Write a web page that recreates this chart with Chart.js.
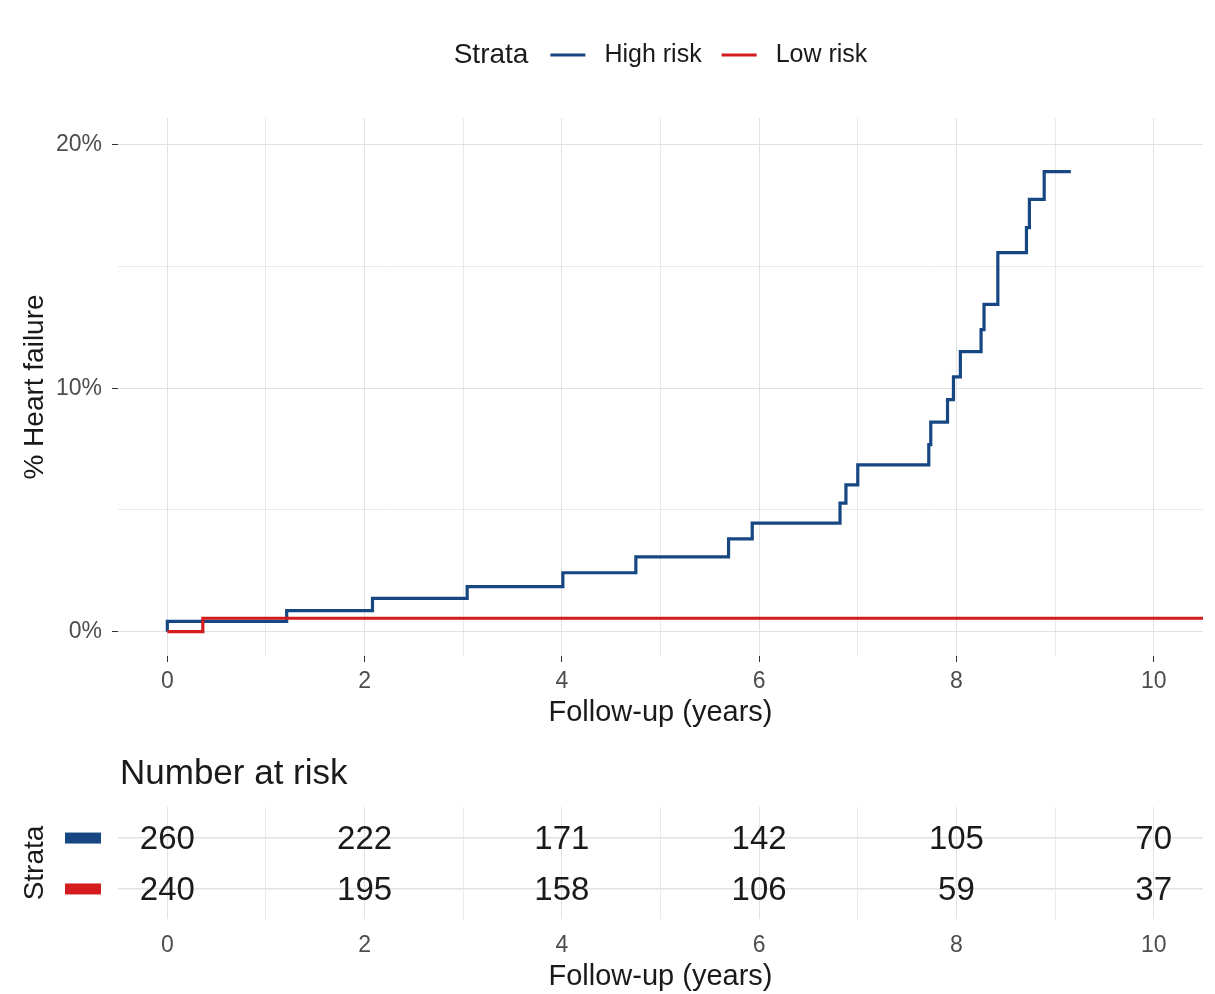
<!DOCTYPE html>
<html>
<head>
<meta charset="utf-8">
<title>Heart failure by risk stratum</title>
<script src="https://cdn.jsdelivr.net/npm/chart.js@4.4.1/dist/chart.umd.min.js"></script>
<style>
  html, body { margin: 0; padding: 0; background: #ffffff; }
  #wrap { position: relative; width: 1215px; height: 994px; overflow: hidden; }
  #curve { position: absolute; left: 0; top: 0; }
  #risk { position: absolute; left: 0; top: 740px; }
</style>
</head>
<body>
<div id="wrap">
  <canvas id="curve" width="1215" height="740"></canvas>
  <canvas id="risk" width="1215" height="254"></canvas>
</div>
<script>
// Cumulative incidence steps (years, % with heart failure)
const strataNames = ['High risk', 'Low risk'];
const highTimes = [0, 0, 1.21, 2.08, 3.04, 4.01, 4.75, 5.69, 5.93, 6.82, 6.88, 7.00, 7.72, 7.74, 7.91, 7.97, 8.04, 8.25, 8.28, 8.42, 8.71, 8.74, 8.89, 9.16];
const highPct   = [0, 0.42, 0.86, 1.37, 1.85, 2.42, 3.07, 3.81, 4.46, 5.28, 6.03, 6.85, 7.68, 8.61, 9.53, 10.47, 11.50, 12.41, 13.44, 15.57, 16.60, 17.76, 18.90, 18.90];
const lowTimes  = [0, 0.36, 10.5];
const lowPct    = [0, 0.55, 0.55];

// Number at risk table
const riskTimes = [0, 2, 4, 6, 8, 10];
const highAtRisk = [260, 222, 171, 142, 105, 70];
const lowAtRisk  = [240, 195, 158, 106, 59, 37];

// Axis ticks
const yearTicks = [0, 1, 2, 3, 4, 5, 6, 7, 8, 9, 10];
const pctTicks = [0, 5, 10, 15, 20];
const pctLabels = [0, 10, 20];

const COL_HIGH = '#164782';
const COL_LOW = '#D41C1F';
const FONT = '"Liberation Sans", Arial, sans-serif';
const GRID_MAJOR = '#E2E2E2';
const GRID_MINOR = '#EAEAEA';
const TICK_TXT = '#4D4D4D';
const TITLE_TXT = '#1A1A1A';

const toPoints = (xs, ys) => xs.map((x, i) => ({ x: x, y: ys[i] }));

// Legend across the top: "Strata" then a line key per stratum
const strataLegend = {
  id: 'strataLegend',
  afterDraw(chart) {
    const ctx = chart.ctx;
    const area = chart.chartArea;
    const cy = 55;
    ctx.save();
    ctx.textBaseline = 'middle';
    ctx.font = '28px ' + FONT;
    const titleW = ctx.measureText('Strata').width;
    ctx.font = '25px ' + FONT;
    const labelW = strataNames.map(n => ctx.measureText(n).width);
    const key = 35, gapTitle = 22, gapKey = 19, gapItem = 20;
    const total = titleW + gapTitle + key + gapKey + labelW[0] + gapItem + key + gapKey + labelW[1];
    let x = (area.left + area.right) / 2 - total / 2;
    ctx.fillStyle = TITLE_TXT;
    ctx.font = '28px ' + FONT;
    ctx.fillText('Strata', x, cy);
    x += titleW + gapTitle;
    const cols = [COL_HIGH, COL_LOW];
    ctx.font = '25px ' + FONT;
    strataNames.forEach((name, i) => {
      ctx.strokeStyle = cols[i];
      ctx.lineWidth = 3;
      ctx.beginPath();
      ctx.moveTo(x, cy);
      ctx.lineTo(x + key, cy);
      ctx.stroke();
      x += key + gapKey;
      ctx.fillStyle = TITLE_TXT;
      ctx.fillText(name, x, cy);
      x += labelW[i] + gapItem;
    });
    ctx.restore();
  }
};

const gridColor = c => (c.tick && c.tick.value % 2 === 0) ? GRID_MAJOR : GRID_MINOR;

new Chart(document.getElementById('curve'), {
  type: 'line',
  data: {
    datasets: [
      {
        label: strataNames[1],
        data: toPoints(lowTimes, lowPct),
        borderColor: COL_LOW,
        borderWidth: 3.2,
        pointRadius: 0,
        stepped: 'before',
        fill: false,
        order: 0
      },
      {
        label: strataNames[0],
        data: toPoints(highTimes, highPct),
        borderColor: COL_HIGH,
        borderWidth: 3.2,
        pointRadius: 0,
        stepped: 'before',
        fill: false,
        order: 1
      }
    ]
  },
  options: {
    responsive: false,
    animation: false,
    devicePixelRatio: 1,
    layout: { padding: { top: 118, right: 12, bottom: 0, left: 0 } },
    plugins: { legend: { display: false }, tooltip: { enabled: false }, title: { display: false } },
    scales: {
      x: {
        type: 'linear',
        min: -0.5,
        max: 10.5,
        afterBuildTicks: s => { s.ticks = yearTicks.map(v => ({ value: v })); },
        afterFit: s => { s.height = 84; },
        border: { display: false },
        grid: {
          color: gridColor,
          lineWidth: 1,
          drawTicks: true,
          tickLength: 6,
          tickColor: c => (c.tick && c.tick.value % 2 === 0) ? '#333333' : 'rgba(0,0,0,0)'
        },
        ticks: {
          autoSkip: false,
          maxRotation: 0,
          padding: 6,
          color: TICK_TXT,
          font: { family: FONT, size: 23 },
          callback: v => (v % 2 === 0 ? String(v) : '')
        },
        title: {
          display: true,
          text: 'Follow-up (years)',
          color: TITLE_TXT,
          font: { family: FONT, size: 29 },
          padding: { top: 0, bottom: 10 }
        }
      },
      y: {
        type: 'linear',
        min: -1.0,
        max: 21.1,
        afterBuildTicks: s => { s.ticks = pctTicks.map(v => ({ value: v })); },
        afterFit: s => { s.width = 118; },
        border: { display: false },
        grid: {
          color: c => (c.tick && c.tick.value % 10 === 0) ? GRID_MAJOR : GRID_MINOR,
          lineWidth: 1,
          drawTicks: true,
          tickLength: 6,
          tickColor: c => (c.tick && c.tick.value % 10 === 0) ? '#333333' : 'rgba(0,0,0,0)'
        },
        ticks: {
          padding: 10,
          color: TICK_TXT,
          font: { family: FONT, size: 23 },
          callback: v => (pctLabels.includes(v) ? v + '%' : '')
        },
        title: {
          display: true,
          text: '% Heart failure',
          color: TITLE_TXT,
          font: { family: FONT, size: 28 },
          padding: { top: 18, bottom: 0 }
        }
      }
    }
  },
  plugins: [strataLegend]
});

// Risk table: counts written at each (time, stratum) position
const riskCounts = [highAtRisk, lowAtRisk];
const riskTable = {
  id: 'riskTable',
  afterDatasetsDraw(chart) {
    const ctx = chart.ctx;
    ctx.save();
    ctx.font = '33px ' + FONT;
    ctx.fillStyle = TITLE_TXT;
    ctx.textAlign = 'center';
    ctx.textBaseline = 'middle';
    chart.data.datasets.forEach((ds, di) => {
      const meta = chart.getDatasetMeta(di);
      meta.data.forEach((pt, i) => {
        ctx.fillText(String(riskCounts[di][i]), pt.x, pt.y + 2);
      });
    });
    // stratum keys in place of y tick labels
    const ys = chart.scales.y;
    [COL_HIGH, COL_LOW].forEach((c, i) => {
      const py = ys.getPixelForValue(chart.data.datasets[i].data[0].y);
      ctx.fillStyle = c;
      ctx.fillRect(65, py - 5, 36, 11);
    });
    // table heading
    ctx.textAlign = 'left';
    ctx.fillStyle = TITLE_TXT;
    ctx.font = '35px ' + FONT;
    ctx.fillText('Number at risk', 120, 34);
    ctx.restore();
  }
};

new Chart(document.getElementById('risk'), {
  type: 'scatter',
  data: {
    datasets: [
      { label: strataNames[0], data: riskTimes.map(t => ({ x: t, y: 2 })), pointRadius: 0, showLine: false },
      { label: strataNames[1], data: riskTimes.map(t => ({ x: t, y: 1 })), pointRadius: 0, showLine: false }
    ]
  },
  options: {
    responsive: false,
    animation: false,
    devicePixelRatio: 1,
    layout: { padding: { top: 67, right: 12, bottom: 0, left: 0 } },
    plugins: { legend: { display: false }, tooltip: { enabled: false } },
    scales: {
      x: {
        type: 'linear',
        min: -0.5,
        max: 10.5,
        afterBuildTicks: s => { s.ticks = yearTicks.map(v => ({ value: v })); },
        afterFit: s => { s.height = 75; },
        border: { display: false },
        grid: { color: gridColor, lineWidth: 1, drawTicks: false },
        ticks: {
          autoSkip: false,
          maxRotation: 0,
          padding: 13,
          color: TICK_TXT,
          font: { family: FONT, size: 23 },
          callback: v => (v % 2 === 0 ? String(v) : '')
        },
        title: {
          display: true,
          text: 'Follow-up (years)',
          color: TITLE_TXT,
          font: { family: FONT, size: 29 },
          padding: { top: 0, bottom: 0 }
        }
      },
      y: {
        type: 'linear',
        min: 0.4,
        max: 2.6,
        afterBuildTicks: s => { s.ticks = [1, 2].map(v => ({ value: v })); },
        afterFit: s => { s.width = 118; },
        border: { display: false },
        grid: { color: GRID_MAJOR, lineWidth: 1.5, drawTicks: false },
        ticks: { callback: () => '' },
        title: {
          display: true,
          text: 'Strata',
          color: TITLE_TXT,
          font: { family: FONT, size: 28 },
          padding: { top: 18, bottom: 0 }
        }
      }
    }
  },
  plugins: [riskTable]
});
</script>
</body>
</html>
